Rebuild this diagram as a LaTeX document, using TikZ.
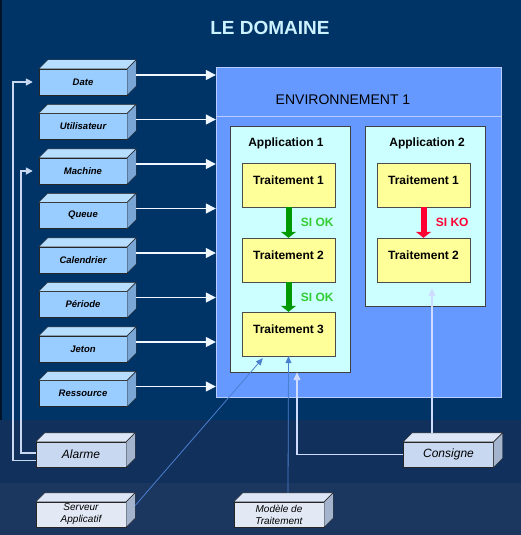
\documentclass[tikz,border=0pt]{standalone}
\usepackage{fontspec}
\setmainfont{Liberation Sans}
\usetikzlibrary{arrows.meta,calc}

\definecolor{fondhaut}{HTML}{003366}
\definecolor{fondmilieu}{HTML}{12305C}
\definecolor{fondbas}{HTML}{1B365F}
\definecolor{paramface}{HTML}{99CCFF}
\definecolor{paramdessus}{HTML}{B8DEFF}
\definecolor{paramcote}{HTML}{7AA6D6}
\definecolor{extface}{HTML}{C8D8F0}
\definecolor{extdessus}{HTML}{DCE6F6}
\definecolor{extcote}{HTML}{A4B4CC}
\definecolor{servface}{HTML}{E2E9F5}
\definecolor{envfond}{HTML}{6699FF}
\definecolor{envbord}{HTML}{B8CCFF}
\definecolor{appfond}{HTML}{CCFFFF}
\definecolor{traitfond}{HTML}{FFFF99}
\definecolor{vertfleche}{HTML}{009900}
\definecolor{verttexte}{HTML}{33CC33}
\definecolor{rougeko}{HTML}{FF0033}
\definecolor{titrecol}{HTML}{CCF2FF}
\definecolor{lienclair}{HTML}{C8D8F0}
\definecolor{lienpale}{HTML}{D0DCFF}
\definecolor{lienbleu}{HTML}{4A80D0}

\begin{document}
\begin{tikzpicture}[x=1pt,y=-1pt,
    param/.style={draw=black!85,fill=paramface,minimum width=88pt,minimum height=26pt,inner sep=0pt,
      font=\fontsize{9.5}{11}\selectfont\bfseries\itshape},
    externe/.style={draw=black!85,fill=extface,minimum width=90pt,minimum height=25pt,inner sep=0pt,
      font=\fontsize{12}{14}\selectfont\itshape},
    serveur/.style={externe,fill=servface,align=center,font=\fontsize{10}{12}\selectfont\itshape},
    appli/.style={draw=black!75,fill=appfond,minimum width=120pt,inner sep=0pt},
    titreapp/.style={font=\fontsize{12}{14}\selectfont\bfseries},
    traitement/.style={draw=black!70,fill=traitfond,minimum width=93pt,minimum height=44pt,inner sep=0pt,
      text height=9pt,text depth=11pt,font=\fontsize{12}{14}\selectfont\bfseries},
    entree/.style={white!85!paramface,line width=1.4pt,-{Triangle[width=10pt,length=10pt]}},
    suite/.style={line width=6pt,-{Triangle[width=15pt,length=6pt]}},
    etiquette/.style={midway,right=6pt,font=\fontsize{12}{14}\selectfont\bfseries},
    lien/.style={lienclair,line width=1.6pt,shorten >=6pt,-{Triangle[width=7pt,length=7pt]}},
    lienp/.style={lienpale,line width=1.2pt,-{Triangle[width=7pt,length=8pt]}},
    lienb/.style={lienbleu,line width=0.8pt,-{Triangle[width=6pt,length=7pt]}}]

  \useasboundingbox (0,0) rectangle (521,535);
  \fill[fondhaut] (0,0) rectangle (521,420);
  \fill[fondmilieu] (0,420) rectangle (521,483);
  \fill[fondbas] (0,483) rectangle (521,535);
  \draw[black!60!fondhaut,line width=2pt] (1,0) -- (1,420);

  \node[font=\fontsize{19}{22}\selectfont\bfseries,text=titrecol] (titre) at (270,28) {LE DOMAINE};

  \node[draw=envbord,fill=envfond,minimum width=285pt,minimum height=330pt,inner sep=0pt] (env) at (358.5,232) {};
  \draw[envbord] ($(env.north west)+(0,49)$) -- ($(env.north east)+(0,49)$);
  \node[font=\fontsize{14}{16}\selectfont] (envtitre) at (343,100) {ENVIRONNEMENT 1};

  \node[appli,minimum height=246pt] (app1) at (290,249) {};
  \node[appli,minimum height=180pt] (app2) at (425,216) {};
  \node[titreapp] (app1titre) at (286,143) {Application 1};
  \node[titreapp] (app2titre) at (427,143) {Application 2};

  \node[traitement] (t11) at (288.5,185) {Traitement 1};
  \node[traitement] (t12) at (288.5,260) {Traitement 2};
  \node[traitement] (t13) at (288.5,334) {Traitement 3};
  \node[traitement] (t21) at (423.5,185) {Traitement 1};
  \node[traitement] (t22) at (423.5,260) {Traitement 2};

  \draw[suite,vertfleche] (t11) -- node[etiquette,text=verttexte] {SI OK} (t12);
  \draw[suite,vertfleche] (t12) -- node[etiquette,text=verttexte] {SI OK} (t13);
  \draw[suite,rougeko] (t21) -- node[etiquette,text=rougeko] {SI KO} (t22);

  \foreach \nom/\texte [count=\i from 0] in {date/Date,utilisateur/Utilisateur,machine/Machine,queue/Queue,
      calendrier/Calendrier,periode/Période,jeton/Jeton,ressource/Ressource}{
    \node[param] (\nom) at (83,{82+44.5*\i}) {\texte};
    \filldraw[draw=black!85,fill=paramdessus] (\nom.north west) -- ++(9,-9) -- ($(\nom.north east)+(9,-9)$) -- (\nom.north east) -- cycle;
    \filldraw[draw=black!85,fill=paramcote] (\nom.north east) -- ++(9,-9) -- ($(\nom.south east)+(9,-9)$) -- (\nom.south east) -- cycle;
    \draw[entree] ($(\nom.east)+(9,-7)$) -- ($(\nom.east -| env.west)+(0,-7)$);
  }

  \node[externe] (alarme) at (81,454.5) {Alarme};
  \node[externe] (consigne) at (448.5,454.5) {Consigne};
  \node[serveur] (serveur) at (81,514.5) {Serveur\\Applicatif};
  \node[serveur] (modele) at (279,514.5) {Modèle de\\Traitement};
  \foreach \nom in {alarme,consigne,serveur,modele}{
    \filldraw[draw=black!85,fill=extdessus] (\nom.north west) -- ++(9,-9) -- ($(\nom.north east)+(9,-9)$) -- (\nom.north east) -- cycle;
    \filldraw[draw=black!85,fill=extcote] (\nom.north east) -- ++(9,-9) -- ($(\nom.south east)+(9,-9)$) -- (\nom.south east) -- cycle;
  }

  \draw[lien] ($(alarme.west)+(0,6)$) -- ++(-23,0) |- (date.west);
  \draw[lien] ($(alarme.west)+(0,-1.5)$) -- ++(-15,0) |- (machine.west);

  \coordinate (cible2) at ($(t22.south)+(8.5,6)$);
  \draw[lienp] ($(cible2 |- consigne.north)+(0,-9)$) -- (cible2);
  \draw[lienp] (consigne.west) -| ($(app1.south)+(7,0)$);
  \draw[lienb] ($(modele.north)+(9,-9)$) -- (t13.south);
  \draw[lienb] ($(serveur.east)+(9,-9)$) -- ($(t13.south west)+(21,2)$);
\end{tikzpicture}
\end{document}
